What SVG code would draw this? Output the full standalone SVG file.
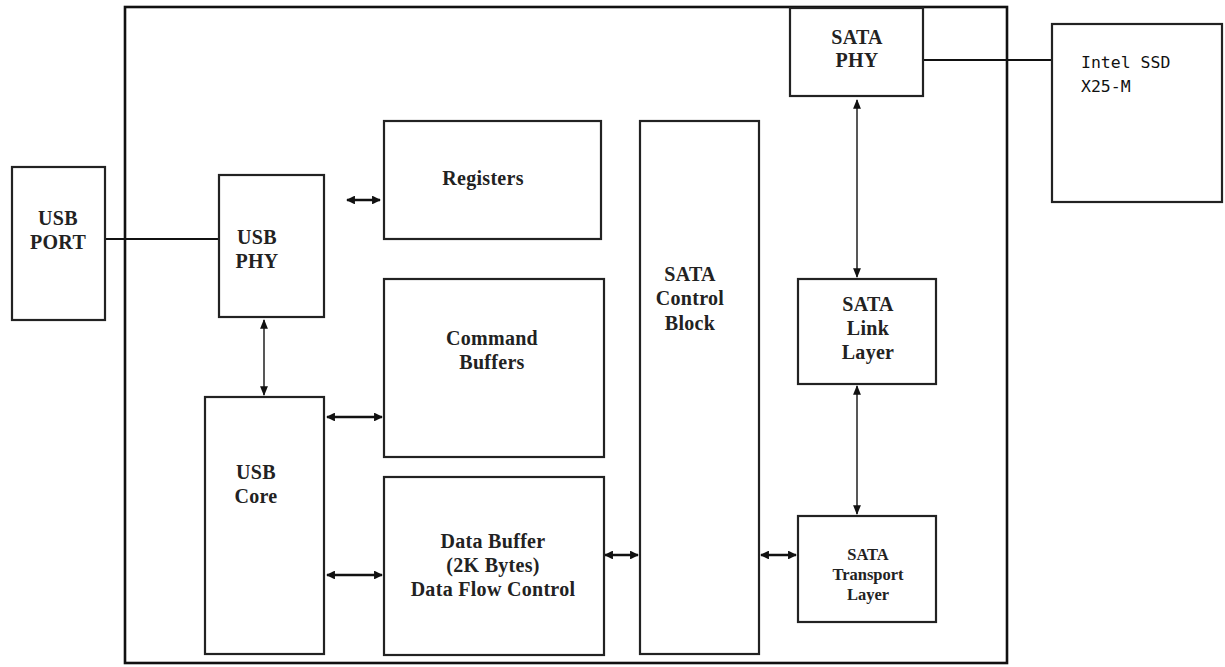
<svg xmlns="http://www.w3.org/2000/svg" width="1225" height="667" viewBox="0 0 1225 667">
<style>
.box{fill:#fff;stroke:#222;stroke-width:2.2}
.outer{fill:none;stroke:#111;stroke-width:2.6}
.t{font-family:"Liberation Serif","Times New Roman",serif;font-weight:bold;font-size:20px;letter-spacing:0.3px;fill:#222;text-anchor:middle}
.ts{font-size:16.5px;letter-spacing:0}
.mono{font-family:"DejaVu Sans Mono","Liberation Mono",monospace;font-size:16.5px;fill:#111}
.c{stroke:#111;stroke-width:2;fill:none}
.thick{stroke-width:2.6}
.thin{stroke-width:1.4}
.arr{marker-start:url(#ah);marker-end:url(#ah)}
</style>
<defs>
<marker id="ah" viewBox="0 0 10 10" refX="9" refY="5" markerWidth="3.4" markerHeight="3.4" orient="auto-start-reverse" markerUnits="strokeWidth">
<path d="M0,0 L10,5 L0,10 z" fill="#111"/>
</marker>
<marker id="ah2" viewBox="0 0 10 10" refX="9" refY="5" markerWidth="7" markerHeight="7" orient="auto-start-reverse" markerUnits="strokeWidth">
<path d="M0,1 L10,5 L0,9 z" fill="#111"/>
</marker>
</defs>
<rect x="0" y="0" width="1225" height="667" fill="#fff"/>
<g id="outer"><rect class="outer" x="125" y="7" width="882" height="656"/></g>
<g id="connectors">
<line class="c" x1="105" y1="239" x2="219" y2="239"/>
<line class="c" x1="921" y1="60" x2="1052" y2="60"/>
<line class="c thick arr" x1="347" y1="200" x2="380" y2="200"/>
<line class="c thin" x1="264" y1="320" x2="264" y2="395" marker-start="url(#ah2)" marker-end="url(#ah2)"/>
<line class="c thick arr" x1="327" y1="417" x2="382" y2="417"/>
<line class="c thick arr" x1="327" y1="575" x2="382" y2="575"/>
<line class="c thick arr" x1="605" y1="555" x2="638" y2="555"/>
<line class="c thick arr" x1="761" y1="555" x2="796" y2="555"/>
<line class="c thin" x1="857" y1="100" x2="857" y2="277" marker-start="url(#ah2)" marker-end="url(#ah2)"/>
<line class="c thin" x1="857" y1="386" x2="857" y2="514" marker-start="url(#ah2)" marker-end="url(#ah2)"/>
</g>
<g id="usb-port"><rect class="box" x="12" y="167" width="93" height="153"/>
<text class="t" x="58" y="225">USB</text><text class="t" x="58" y="249">PORT</text></g>
<g id="usb-phy"><rect class="box" x="219" y="175" width="105" height="142"/>
<text class="t" x="257" y="244">USB</text><text class="t" x="257" y="268">PHY</text></g>
<g id="registers"><rect class="box" x="384" y="121" width="217" height="118"/>
<text class="t" x="483" y="185">Registers</text></g>
<g id="command-buffers"><rect class="box" x="384" y="279" width="220" height="178"/>
<text class="t" x="492" y="345">Command</text><text class="t" x="492" y="369">Buffers</text></g>
<g id="usb-core"><rect class="box" x="205" y="397" width="119" height="257"/>
<text class="t" x="256" y="479">USB</text><text class="t" x="256" y="503">Core</text></g>
<g id="data-buffer"><rect class="box" x="384" y="477" width="220" height="178"/>
<text class="t" x="493" y="548">Data Buffer</text><text class="t" x="493" y="572">(2K Bytes)</text><text class="t" x="493" y="596">Data Flow Control</text></g>
<g id="sata-control"><rect class="box" x="640" y="121" width="119" height="533"/>
<text class="t" x="690" y="281">SATA</text><text class="t" x="690" y="305">Control</text><text class="t" x="690" y="330">Block</text></g>
<g id="sata-phy"><rect class="box" x="790" y="8" width="133" height="88"/>
<text class="t" x="857" y="44">SATA</text><text class="t" x="857" y="67">PHY</text></g>
<g id="sata-link"><rect class="box" x="798" y="279" width="138" height="105"/>
<text class="t" x="868" y="311">SATA</text><text class="t" x="868" y="335">Link</text><text class="t" x="868" y="359">Layer</text></g>
<g id="sata-transport"><rect class="box" x="798" y="516" width="138" height="106"/>
<text class="t ts" x="868" y="560">SATA</text><text class="t ts" x="868" y="580">Transport</text><text class="t ts" x="868" y="600">Layer</text></g>
<g id="intel-ssd"><rect class="box" x="1052" y="24" width="170" height="178"/>
<text class="mono" x="1081" y="68">Intel SSD</text><text class="mono" x="1081" y="92">X25-M</text></g>
</svg>
